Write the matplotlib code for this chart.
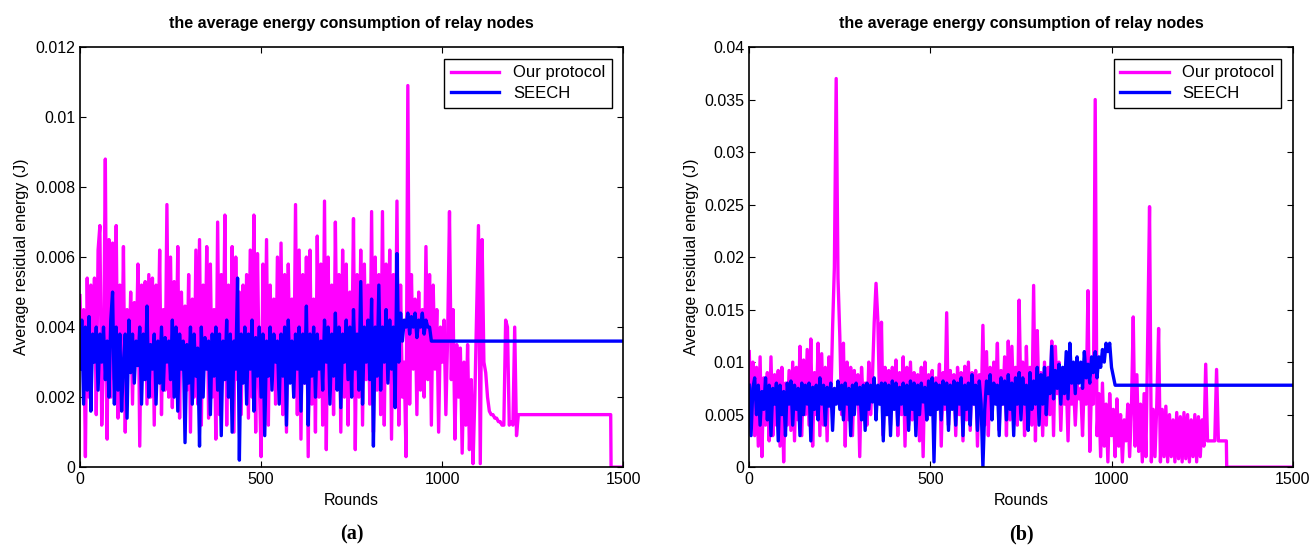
import numpy as np
import matplotlib
matplotlib.use("Agg")
import matplotlib.pyplot as plt
from matplotlib.ticker import FuncFormatter

plt.rcParams['font.family'] = ['Liberation Sans', 'DejaVu Sans']

step = 5

# panel (a) ----------------------------------------------------
ours_a = [
    49, 30, 45, 3, 54, 20, 52, 33, 54, 15,
    62, 69, 12, 30, 88, 8, 65, 20, 64, 25,
    69, 14, 52, 22, 63, 10, 45, 28, 50, 18,
    47, 30, 58, 6, 52, 25, 53, 18, 55, 20,
    54, 12, 52, 30, 62, 15, 45, 22, 75, 20,
    60, 17, 53, 25, 63, 14, 50, 28, 46, 22,
    55, 10, 48, 20, 62, 18, 65, 12, 52, 28,
    63, 14, 58, 20, 45, 8, 70, 15, 55, 25,
    72, 12, 52, 20, 63, 10, 60, 25, 50, 15,
    52, 28, 55, 14, 62, 20, 72, 10, 61, 25,
    3, 58, 20, 65, 12, 52, 28, 48, 18, 60,
    22, 64, 15, 55, 10, 58, 25, 48, 20, 75,
    15, 62, 8, 55, 24, 60, 3, 62, 18, 48,
    10, 66, 20, 58, 12, 76, 5, 60, 22, 52,
    15, 70, 25, 55, 10, 62, 20, 58, 12, 50,
    28, 71, 5, 55, 20, 62, 12, 58, 25, 52,
    18, 73, 10, 60, 22, 55, 15, 73, 12, 58,
    25, 62, 8, 55, 20, 76, 12, 52, 20, 30,
    3, 109, 18, 55, 28, 48, 15, 50, 22, 45,
    20, 63, 25, 55, 12, 52, 28, 45, 10, 40,
    30, 42, 15, 38, 73, 25, 45, 8, 35, 20,
    34, 4, 30, 12, 35, 5, 25, 1, 20, 45,
    69, 1, 65, 30, 27, 20, 16, 15, 15, 14,
    14, 13, 13, 12, 12, 42, 40, 12, 13, 12,
    40, 9,
]
ours_a_tail_r = [1210, 1465, 1466, 1500]
ours_a_tail = [15, 15, 0, 0]

seech_a = [
    28, 42, 18, 40, 22, 43, 16, 38, 30, 40,
    22, 38, 30, 40, 25, 36, 20, 42, 50, 18,
    40, 22, 38, 16, 30, 38, 14, 42, 27, 38,
    24, 36, 29, 40, 18, 38, 25, 46, 20, 35,
    28, 38, 18, 36, 24, 40, 22, 37, 30, 36,
    25, 42, 20, 40, 16, 38, 28, 36, 7, 35,
    24, 40, 18, 38, 26, 34, 6, 40, 20, 37,
    28, 36, 15, 38, 26, 40, 22, 38, 9, 36,
    25, 42, 20, 38, 10, 36, 28, 54, 2, 38,
    24, 40, 18, 38, 28, 42, 16, 37, 26, 40,
    20, 38, 9, 36, 26, 40, 22, 38, 30, 36,
    18, 38, 26, 40, 12, 42, 24, 36, 20, 38,
    28, 40, 16, 38, 24, 46, 12, 38, 26, 40,
    20, 38, 28, 36, 22, 42, 30, 40, 18, 38,
    26, 44, 22, 40, 17, 38, 30, 42, 25, 40,
    20, 45, 28, 38, 22, 53, 18, 40, 30, 42,
    25, 48, 6, 40, 26, 52, 22, 40, 30, 45,
    24, 42, 28, 40, 17, 61, 30, 44, 36, 42,
    40, 44, 38, 43, 40, 44, 37, 42, 40, 44,
    38, 42, 40, 40, 36,
]
seech_a_tail_r = [975, 1500]
seech_a_tail = [36, 36]

# panel (b) ----------------------------------------------------
ours_b = [
    110, 50, 100, 30, 95, 20, 105, 10, 85, 40,
    90, 25, 105, 30, 88, 40, 92, 20, 95, 5,
    80, 40, 92, 35, 100, 25, 95, 45, 115, 30,
    102, 50, 112, 40, 122, 20, 90, 50, 118, 30,
    108, 40, 95, 25, 105, 60, 132, 190, 370, 180,
    125, 50, 118, 20, 100, 45, 95, 30, 92, 60,
    88, 10, 95, 60, 80, 40, 100, 50, 85, 138,
    175, 140, 60, 138, 30, 95, 50, 92, 40, 95,
    60, 102, 30, 90, 50, 105, 20, 95, 40, 100,
    45, 90, 60, 88, 25, 95, 10, 100, 45, 88,
    50, 92, 30, 85, 60, 98, 20, 90, 55, 147,
    40, 92, 60, 88, 30, 95, 50, 90, 25, 96,
    45, 100, 35, 90, 60, 92, 20, 88, 50, 135,
    40, 110, 30, 95, 50, 100, 70, 118, 35, 92,
    60, 105, 30, 120, 45, 115, 55, 95, 40, 159,
    60, 100, 30, 115, 50, 95, 40, 173, 25, 130,
    60, 90, 30, 100, 40, 95, 50, 120, 30, 115,
    70, 100, 35, 90, 60, 85, 25, 95, 60, 80,
    40, 80, 65, 75, 30, 85, 60, 168, 15, 80,
    60, 350, 30, 70, 10, 80, 20, 60, 5, 70,
    30, 55, 10, 65, 20, 50, 5, 45, 25, 60,
    10, 55, 143, 20, 88, 15, 60, 5, 70, 10,
    125, 248, 5, 55, 10, 60, 132, 5, 55, 10,
    58, 5, 50, 10, 45, 5, 52, 8, 48, 5,
    52, 8, 50, 5, 45, 10, 50, 5, 48, 10,
    45, 20, 98,
]
ours_b_tail_r = [1265, 1285, 1290, 1295, 1317, 1318, 1500]
ours_b_tail = [25, 25, 93, 25, 25, 0, 0]

seech_b = [
    78, 30, 75, 85, 50, 78, 40, 72, 55, 85,
    45, 78, 30, 75, 60, 80, 25, 78, 50, 72,
    30, 80, 60, 82, 40, 78, 55, 75, 30, 80,
    50, 78, 60, 80, 25, 76, 55, 78, 45, 85,
    60, 78, 40, 76, 58, 80, 35, 75, 60, 82,
    55, 78, 45, 80, 60, 75, 30, 78, 50, 80,
    60, 76, 45, 78, 35, 80, 55, 78, 62, 85,
    45, 78, 60, 80, 25, 80, 50, 78, 30, 82,
    55, 80, 40, 76, 60, 80, 50, 78, 35, 82,
    55, 80, 30, 78, 50, 80, 62, 76, 45, 82,
    50, 85, 5, 80, 55, 78, 45, 82, 60, 80,
    35, 78, 55, 82, 40, 80, 60, 85, 30, 78,
    55, 80, 40, 88, 60, 78, 35, 82, 60, 0,
    55, 82, 70, 88, 45, 80, 60, 78, 30, 85,
    60, 82, 45, 88, 55, 80, 30, 85, 60, 90,
    45, 85, 60, 78, 35, 90, 55, 82, 60, 95,
    40, 88, 60, 95, 50, 85, 70, 115, 65, 92,
    75, 98, 60, 95, 70, 110, 65, 118, 80, 100,
    70, 105, 80, 100, 75, 110, 85, 98, 80, 105,
    90, 110, 85, 105, 95, 112, 100, 118, 110, 118,
    95,
]
seech_b_tail_r = [1010, 1500]
seech_b_tail = [78, 78]


def series(vals, tail_r, tail_v):
    r = np.concatenate([np.arange(len(vals)) * step, tail_r])
    v = np.concatenate([vals, tail_v]) * 1e-4
    return r, v


fmt = FuncFormatter(lambda v, p: '%g' % round(v, 4))

fig = plt.figure(figsize=(13.11, 5.47), dpi=100)
panels = [
    (0.061, ours_a, ours_a_tail_r, ours_a_tail, seech_a, seech_a_tail_r, seech_a_tail,
     0.012, np.arange(0, 0.0121, 0.002), '(a)'),
    (0.5715, ours_b, ours_b_tail_r, ours_b_tail, seech_b, seech_b_tail_r, seech_b_tail,
     0.04, np.arange(0, 0.0401, 0.005), '(b)'),
]

for left, o, otr, ot, s, str_, st, ymax, yt, tag in panels:
    ax = fig.add_axes([left, 0.146, 0.4145, 0.768])
    x, y = series(o, otr, ot)
    ax.plot(x, y, color='#ff00ff', lw=2.4, label='Our protocol')
    x, y = series(s, str_, st)
    ax.plot(x, y, color='#0000ff', lw=2.4, label='SEECH')
    ax.set_xlim(0, 1500)
    ax.set_ylim(0, ymax)
    ax.set_xticks([0, 500, 1000, 1500])
    ax.set_yticks(yt)
    ax.yaxis.set_major_formatter(fmt)
    ax.tick_params(direction='in', top=True, right=True, labelsize=11.5, length=4, width=0.8)
    for sp in ax.spines.values():
        sp.set_linewidth(1.2)
    ax.set_xlabel('Rounds', fontsize=11.5, labelpad=4)
    ax.set_ylabel('Average residual energy (J)', fontsize=11.5)
    ax.set_title('the average energy consumption of relay nodes', fontsize=11.5,
                 fontweight='bold', pad=14)
    leg = ax.legend(loc='upper right', fontsize=12, fancybox=False, edgecolor='black',
                    framealpha=1, handlelength=2.9, borderpad=0.4, labelspacing=0.35,
                    borderaxespad=0.7)
    leg.get_frame().set_linewidth(1.0)
    ax.text(0.5, -0.16, tag, transform=ax.transAxes, ha='center', va='center',
            fontsize=14.5, fontweight='bold', family=['Liberation Serif', 'DejaVu Serif'])

fig.savefig('out.png', dpi=100)
